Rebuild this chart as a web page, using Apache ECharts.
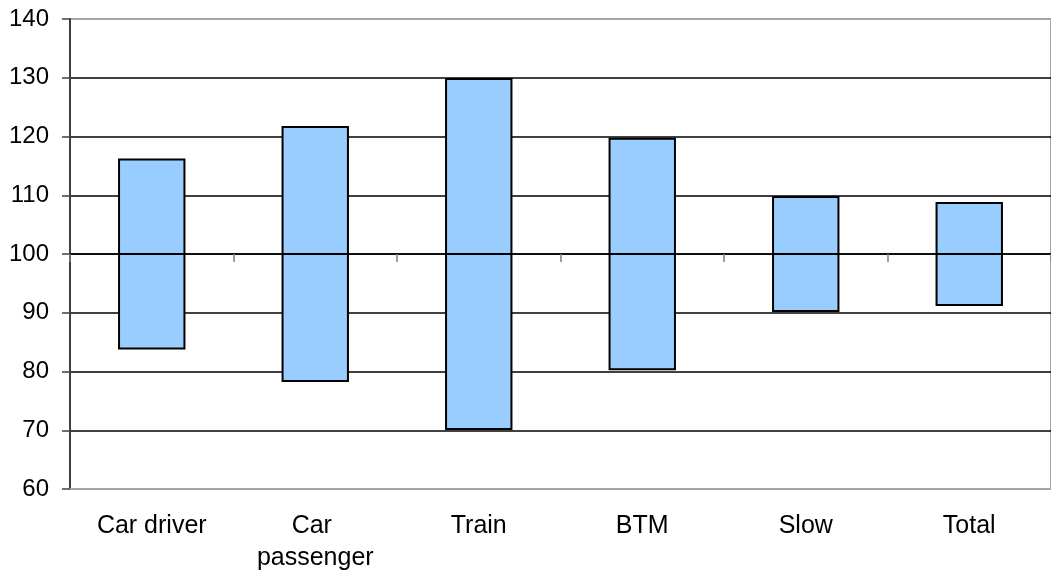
<!DOCTYPE html>
<html>
<head>
<meta charset="utf-8">
<script src="https://cdn.jsdelivr.net/npm/echarts@6/dist/echarts.min.js"></script>
<style>
  html, body { margin: 0; padding: 0; background: #fff; }
  #chart { width: 1051px; height: 577px; }
</style>
</head>
<body>
<div id="chart"></div>
<script>
// Index ranges per travel mode (base = 100)
const categories = ['Car driver', 'Car passenger', 'Train', 'BTM', 'Slow', 'Total'];
const lowValues  = [83.9, 78.4, 70.2, 80.4, 90.3, 91.3];
const highValues = [116.1, 121.6, 129.8, 119.6, 109.7, 108.7];
const yTicks = [60, 70, 80, 90, 100, 110, 120, 130, 140];
const baseValue = 100;

const FONT = "'Liberation Sans', Arial, sans-serif";

const chart = echarts.init(document.getElementById('chart'), null, { renderer: 'canvas' });

const rangeData = categories.map((c, i) => [i, lowValues[i], highValues[i]]);

// Height of the plot and the pixel offset of the base line from the bottom
const plotTop = 19, plotBottom = 88;
const plotHeight = 577 - plotTop - plotBottom;
const yMin = yTicks[0], yMax = yTicks[yTicks.length - 1];
const baseFromBottom = plotBottom + plotHeight * (baseValue - yMin) / (yMax - yMin);

chart.setOption({
  animation: false,
  backgroundColor: '#ffffff',
  grid: [
    {
      left: 70, right: -5, top: plotTop, bottom: plotBottom,
      show: true, borderColor: '#a6a6a6', borderWidth: 2, backgroundColor: 'transparent'
    },
    // same horizontal extent, bottom edge sits on the base value line
    { left: 70, right: -5, top: plotTop, bottom: baseFromBottom }
  ],
  xAxis: [
    {
      type: 'category',
      gridIndex: 0,
      data: categories,
      boundaryGap: true,
      axisLine: { show: true, lineStyle: { color: '#a6a6a6', width: 2 } },
      axisTick: { show: false },
      axisLabel: {
        color: '#000', fontFamily: FONT, fontSize: 25,
        margin: 21, lineHeight: 32, interval: 0,
        width: 150, overflow: 'break'
      },
      splitLine: { show: false }
    },
    {
      type: 'category',
      gridIndex: 1,
      data: categories,
      boundaryGap: true,
      position: 'bottom',
      axisLine: { show: true, lineStyle: { color: '#000', width: 1.5 } },
      axisTick: { show: true, length: 8, interval: 0, lineStyle: { color: '#7f7f7f', width: 1.5 } },
      axisLabel: { show: false },
      splitLine: { show: false }
    }
  ],
  yAxis: [
    {
      type: 'value',
      gridIndex: 0,
      min: yMin, max: yMax, interval: 10,
      axisLine: { show: true, lineStyle: { color: '#404040', width: 2 } },
      axisTick: { show: true, length: 8, lineStyle: { color: '#404040', width: 1.5 } },
      axisLabel: { color: '#000', fontFamily: FONT, fontSize: 24, margin: 21 },
      splitLine: {
        show: true, showMinLine: false, showMaxLine: false,
        lineStyle: { color: '#000', width: 1.5 }
      }
    },
    {
      type: 'value', gridIndex: 1, min: 0, max: 1, show: false,
      splitLine: { show: false }
    }
  ],
  series: [
    {
      type: 'custom',
      xAxisIndex: 0,
      yAxisIndex: 0,
      data: rangeData,
      encode: { x: 0, y: [1, 2] },
      renderItem: function (params, api) {
        const idx = api.value(0);
        const lowPt = api.coord([idx, api.value(1)]);
        const highPt = api.coord([idx, api.value(2)]);
        const basePt = api.coord([idx, baseValue]);
        const bandWidth = api.size([1, 0])[0];
        const w = bandWidth * 0.4;
        return {
          type: 'group',
          children: [
            {
              type: 'rect',
              shape: { x: lowPt[0] - w / 2, y: highPt[1], width: w, height: lowPt[1] - highPt[1] },
              style: { fill: '#99ccff', stroke: '#000', lineWidth: 2 }
            },
            {
              // base line crossing the box
              type: 'line',
              shape: { x1: lowPt[0] - w / 2, y1: basePt[1], x2: lowPt[0] + w / 2, y2: basePt[1] },
              style: { stroke: '#000', lineWidth: 2 }
            }
          ]
        };
      },
      z: 2
    }
  ]
});
</script>
</body>
</html>
